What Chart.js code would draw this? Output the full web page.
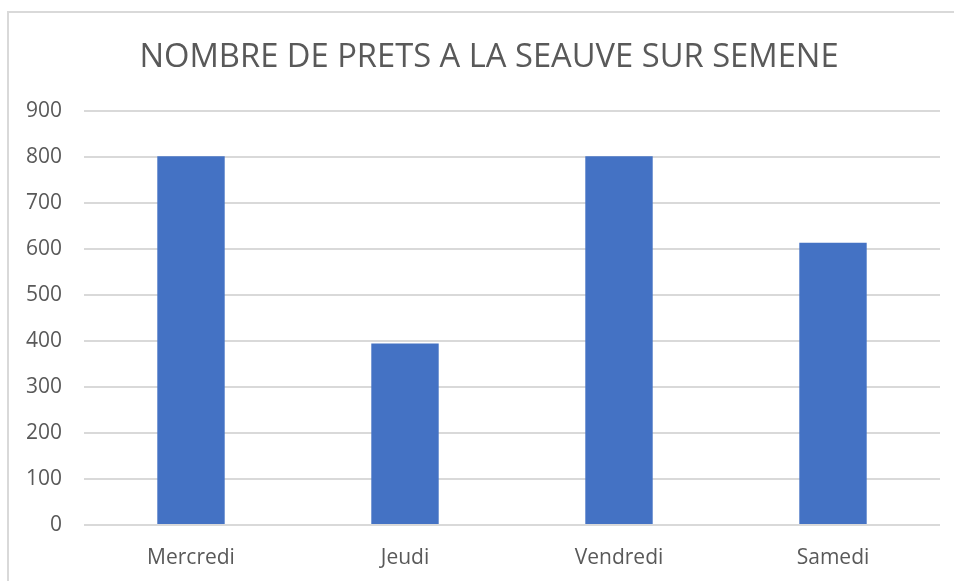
<!DOCTYPE html>
<html>
<head>
<meta charset="utf-8">
<script src="https://cdn.jsdelivr.net/npm/chart.js@4.4.0/dist/chart.umd.min.js"></script>
<style>
  html, body { margin: 0; padding: 0; background: #fff; overflow: hidden; }
  #frame {
    position: absolute;
    left: 7px; top: 11px;
    width: 947px; height: 570px;
    border-top: 2px solid #d9d9d9;
    border-left: 2px solid #d9d9d9;
  }
  #wrap { position: absolute; left: 0; top: 0; width: 947px; height: 568px; }
</style>
</head>
<body>
<div id="frame"><div id="wrap"><canvas id="chart"></canvas></div></div>
<script>
// values
const categories = ['Mercredi', 'Jeudi', 'Vendredi', 'Samedi'];
const prets = [802, 395, 802, 614];
const chartTitle = 'NOMBRE DE PRETS A LA SEAUVE SUR SEMENE';

const textColor = '#595959';
const gridColor = '#d9d9d9';

// the original title is centred on the whole frame, not the padded box
const shiftTitle = {
    id: 'shiftTitle',
    afterLayout(chart) {
        const t = chart.titleBlock;
        if (!t) return;
        t.left += 14.5;
        t.right += 14.5;
    }
};

new Chart(document.getElementById('chart').getContext('2d'), {
    type: 'bar',
    data: {
        labels: categories,
        datasets: [{
            label: 'Prêts',
            data: prets,
            backgroundColor: '#4472c4',
            borderWidth: 0,
            categoryPercentage: 1,
            barPercentage: 0.315
        }]
    },
    options: {
        responsive: true,
        maintainAspectRatio: false,
        animation: false,
        layout: { padding: { left: 0, right: 16, top: 0, bottom: 0 } },
        scales: {
            x: {
                grid: { display: false, drawTicks: false },
                border: { display: false },
                ticks: {
                    color: textColor,
                    font: { family: 'Open Sans', size: 21 },
                    padding: 20
                },
                afterFit: scale => { scale.height = 56; }
            },
            y: {
                min: 0,
                max: 900,
                ticks: {
                    stepSize: 100,
                    color: textColor,
                    font: { family: 'Open Sans', size: 21 },
                    padding: 22
                },
                grid: { color: gridColor, lineWidth: 2, drawTicks: false },
                border: { display: false },
                afterFit: scale => { scale.width = 75; }
            }
        },
        plugins: {
            legend: { display: false },
            tooltip: { enabled: false },
            title: {
                display: true,
                text: chartTitle,
                color: textColor,
                font: { family: 'Open Sans', size: 32.7, weight: 'normal' },
                padding: { top: 25, bottom: 34 }
            }
        }
    },
    plugins: [shiftTitle]
});
</script>
</body>
</html>
